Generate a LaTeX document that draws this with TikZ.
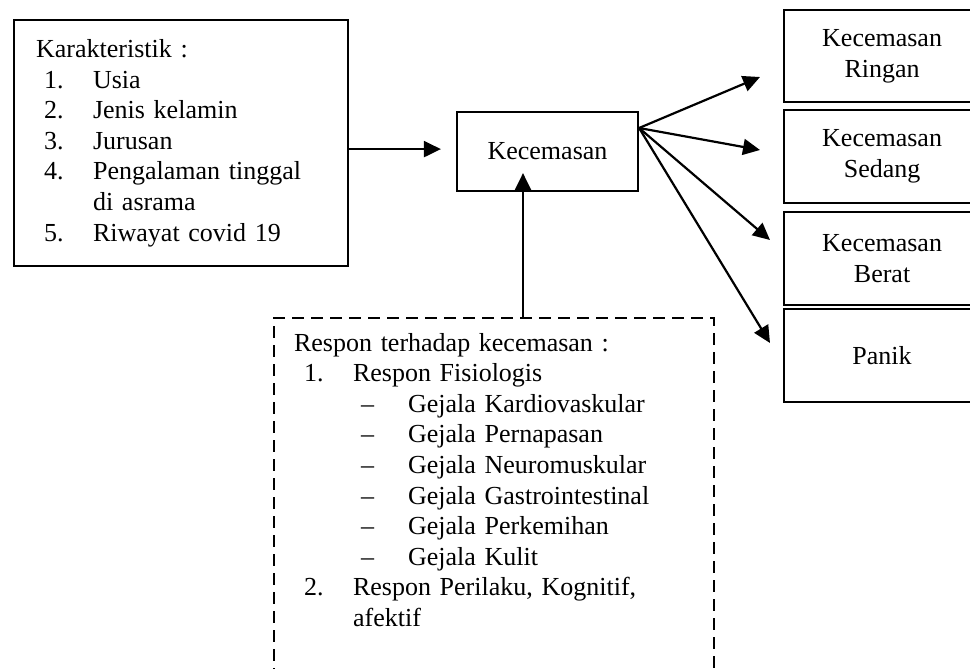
\documentclass[tikz,border=0pt]{standalone}
\usepackage{fontspec}
\setmainfont{Liberation Serif}
\usepackage{xcolor}
\usepackage{tikz}
\usetikzlibrary{arrows.meta, calc, positioning}
\definecolor{Ink}{HTML}{000000}
\tikzset{
  txt/.style={font=\fontsize{13pt}{15.3pt}\selectfont, color=Ink},
  box/.style={txt, draw=Ink, line width=1.1pt, inner sep=0pt, align=center},
  listbox/.style={txt, draw=Ink, line width=1.1pt, anchor=north west, align=left},
  dashbox/.style={listbox, dash pattern=on 6pt off 3.5pt},
  arrow/.style={-{Triangle[length=8.5pt, width=8pt]}, line width=1.1pt, color=Ink},
}

\begin{document}
\begin{tikzpicture}[x=0.5pt, y=-0.5pt]
  \clip (0,0) rectangle (970,669);

  % Karakteristik
  \node[listbox, text width=145pt, inner xsep=11pt, inner ysep=4pt, minimum height=123pt] (karakter) at (13,19) {%
    Karakteristik :\\
    \hspace*{4pt}\makebox[24.5pt][l]{1.}Usia\\
    \hspace*{4pt}\makebox[24.5pt][l]{2.}Jenis kelamin\\
    \hspace*{4pt}\makebox[24.5pt][l]{3.}Jurusan\\
    \hspace*{4pt}\makebox[24.5pt][l]{4.}Pengalaman tinggal\\
    \hspace*{28.5pt}di asrama\\
    \hspace*{4pt}\makebox[24.5pt][l]{5.}Riwayat covid 19};

  % Kecemasan
  \node[box, minimum width=90.5pt, minimum height=39.5pt] (kec) at (547.5,151.5) {Kecemasan};

  % Tingkat kecemasan
  \node[box, anchor=west, minimum width=98pt, minimum height=46pt] (ringan) at (783,56) {Kecemasan\\Ringan};
  \node[box, anchor=west, minimum width=98pt, minimum height=46.5pt] (sedang) at (783,156.5) {Kecemasan\\Sedang};
  \node[box, anchor=west, minimum width=98pt, minimum height=46.5pt] (berat) at (783,258.5) {Kecemasan\\Berat};
  \node[box, anchor=west, minimum width=98pt, minimum height=46.5pt] (panik) at (783,355.5) {Panik};

  % Respon
  \node[dashbox, text width=200pt, inner xsep=10pt, inner ysep=7.5pt] (respon) at (273,317) {%
    Respon terhadap kecemasan :\\
    \hspace*{5pt}\makebox[24.5pt][l]{1.}Respon Fisiologis\\
    \hspace*{33.5pt}\makebox[23.5pt][l]{\textendash}Gejala Kardiovaskular\\
    \hspace*{33.5pt}\makebox[23.5pt][l]{\textendash}Gejala Pernapasan\\
    \hspace*{33.5pt}\makebox[23.5pt][l]{\textendash}Gejala Neuromuskular\\
    \hspace*{33.5pt}\makebox[23.5pt][l]{\textendash}Gejala Gastrointestinal\\
    \hspace*{33.5pt}\makebox[23.5pt][l]{\textendash}Gejala Perkemihan\\
    \hspace*{33.5pt}\makebox[23.5pt][l]{\textendash}Gejala Kulit\\
    \hspace*{5pt}\makebox[24.5pt][l]{2.}Respon Perilaku, Kognitif,\\
    \hspace*{29.5pt}afektif\\
    \mbox{}\\
    \mbox{}};

  % Arrows
  \coordinate (k1) at ([yshift=-3pt]karakter.east);
  \draw[arrow] (k1) -- ($(k1 -| kec.west)+(-15,0)$);

  \coordinate (r1) at ([xshift=-12.25pt]kec.south);
  \draw[arrow] (r1 |- respon.north) -- ($(r1)+(0,-19)$);

  \coordinate (k2) at ($(kec.east)+(0,-23.5)$);
  \draw[arrow] (k2) -- ($(ringan.west)+(-23,21)$);
  \draw[arrow] (k2) -- ($(sedang.west)+(-23,-6.5)$);
  \draw[arrow] (k2) -- ($(berat.west)+(-13,-18.5)$);
  \draw[arrow] (k2) -- ($(panik.west)+(-13,-12.5)$);
\end{tikzpicture}
\end{document}
